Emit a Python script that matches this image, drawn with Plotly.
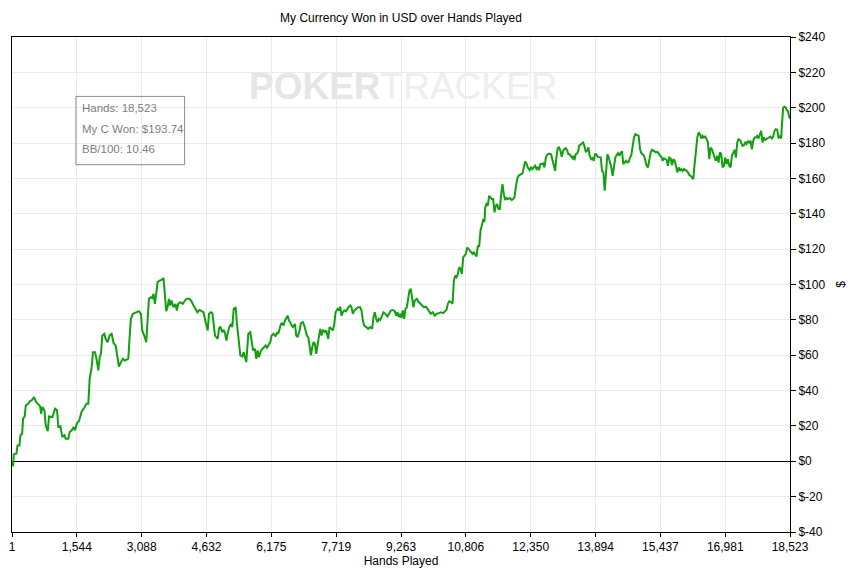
import plotly.graph_objects as go

# (hands played, cumulative USD won)
seg_early = [
    (1, 0), (28, -2.8), (44, 4.0), (107, 4.3), (131, 9.0), (178, 9.0), (202, 14.7), (242, 15.6),
    (265, 24.1), (305, 25.6), (329, 31.6), (392, 32.6), (424, 33.9), (471, 34.5), (527, 36.3),
    (567, 33.9), (614, 32.6), (670, 31.1), (693, 26.9), (725, 30.7), (772, 28.8), (804, 20.3),
    (852, 17.0), (883, 25.4), (963, 25.0), (986, 26.9), (1026, 29.7), (1073, 28.8), (1105, 19.4),
    (1153, 19.8), (1200, 13.7), (1248, 14.7), (1280, 12.8), (1343, 12.8), (1375, 16.6), (1422, 17.5),
    (1470, 19.4), (1501, 17.5), (1549, 21.6), (1596, 22.8), (1660, 28.2), (1723, 30.3), (1771, 32.6),
    (1818, 32.6), (1850, 46.7), (1898, 53.3), (1929, 61.7), (1977, 61.7), (2008, 58.5), (2056, 51.4),
    (2088, 58.9), (2119, 60.8), (2151, 71.2), (2199, 72.1), (2230, 69.3), (2278, 67.4), (2325, 71.2),
    (2373, 72.1), (2421, 66.8), (2468, 65.5), (2516, 57.0), (2547, 53.6), (2595, 56.1), (2642, 58.0),
    (2690, 57.0), (2769, 58.0), (2801, 70.2), (2832, 80.6), (2880, 83.4), (2959, 84.3), (3023, 84.9),
    (3070, 83.4), (3102, 74.0), (3149, 71.1), (3197, 67.4), (3229, 79.6), (3260, 91.9), (3308, 92.8),
    (3340, 92.4), (3371, 94.7), (3403, 89.0), (3435, 94.7), (3466, 101.3), (3514, 102.2), (3561, 102.6),
    (3609, 103.7), (3641, 92.8), (3672, 84.9), (3704, 87.1), (3736, 91.9), (3767, 88.1), (3799, 90.9),
    (3847, 87.1), (3894, 89.0), (3926, 85.3), (3957, 89.0), (4005, 90.0), (4068, 89.0), (4116, 90.9),
    (4163, 91.9), (4227, 91.9), (4274, 90.5), (4322, 88.1), (4370, 86.2), (4417, 84.3), (4465, 85.6),
    (4560, 84.3),
]

seg_middle = [
    (4612, 78.7), (4660, 74.0), (4691, 83.4), (4739, 84.3), (4771, 83.8), (4802, 75.9), (4834, 71.1),
    (4866, 70.2), (4898, 69.3), (4929, 74.9), (4961, 76.2), (5009, 73.0), (5040, 74.4), (5072, 72.5),
    (5104, 68.3), (5135, 72.1), (5167, 75.5), (5215, 77.7), (5246, 75.9), (5278, 86.2), (5326, 87.1),
    (5357, 77.7), (5405, 66.4), (5437, 59.9), (5484, 59.3), (5516, 61.7), (5548, 58.9), (5579, 56.1),
    (5627, 72.1), (5674, 73.0), (5706, 68.3), (5738, 62.7), (5785, 63.6), (5817, 58.0), (5849, 62.7),
    (5881, 58.9), (5928, 62.7), (5960, 63.6), (6007, 65.0), (6039, 65.5), (6071, 64.2), (6102, 65.5),
    (6150, 67.4), (6182, 71.1), (6229, 72.1), (6277, 70.6), (6309, 73.0), (6340, 72.1), (6372, 74.9),
    (6404, 77.7), (6435, 78.1), (6467, 76.8), (6499, 79.6), (6531, 81.5), (6562, 82.4), (6594, 79.6),
    (6626, 78.7), (6657, 76.8), (6689, 75.9), (6737, 77.7), (6768, 71.1), (6800, 70.2), (6848, 74.0),
    (6879, 78.1), (6927, 78.7), (6959, 76.8), (6990, 74.0), (7022, 71.1), (7054, 70.2), (7085, 63.6),
    (7117, 59.9), (7149, 64.6), (7181, 67.4), (7212, 66.5), (7244, 60.8), (7292, 68.3), (7339, 74.9),
    (7371, 71.1), (7403, 74.4), (7450, 73.0), (7482, 74.0), (7529, 69.3), (7561, 75.9), (7609, 74.9),
    (7640, 74.0), (7672, 77.2), (7704, 84.3), (7751, 86.2), (7783, 85.3), (7815, 87.5), (7846, 82.4),
    (7878, 84.3), (7910, 85.3), (7957, 84.9), (8005, 87.1), (8053, 88.1), (8084, 87.1), (8116, 83.4),
    (8148, 85.3), (8195, 86.2), (8243, 87.1), (8290, 87.1), (8322, 85.3), (8354, 79.6), (8385, 76.8),
    (8433, 75.9), (8480, 74.9), (8528, 75.9), (8576, 74.9), (8607, 81.5), (8639, 84.3), (8671, 80.6),
    (8702, 78.7), (8734, 80.6), (8766, 80.0), (8798, 81.5), (8845, 84.3), (8893, 83.4), (8940, 81.9),
    (8988, 83.8), (9020, 85.3), (9067, 85.6), (9115, 84.9), (9147, 82.4), (9178, 84.3), (9210, 81.5),
    (9242, 83.4), (9273, 81.1), (9305, 85.3), (9337, 80.6), (9368, 86.2), (9400, 87.1), (9432, 91.9),
    (9464, 96.6), (9495, 97.5), (9527, 92.8), (9559, 87.1), (9590, 90.9), (9638, 91.9), (9670, 90.5),
    (9717, 89.0), (9765, 88.1), (9812, 87.1), (9860, 87.5), (9892, 86.2), (9923, 85.3), (9971, 83.4),
    (10018, 84.3), (10066, 82.4), (10114, 83.4),
]

seg_climb = [
    (10220, 84.3), (10267, 83.8), (10315, 85.3), (10346, 85.7), (10378, 89.1), (10410, 90.5),
    (10457, 90.0), (10489, 89.1), (10521, 102.2), (10552, 105.0), (10584, 104.1), (10616, 106.0),
    (10648, 109.8), (10679, 108.8), (10711, 106.0), (10743, 115.4), (10774, 116.3), (10806, 117.3),
    (10838, 121.0), (10870, 120.1), (10901, 118.8), (10933, 118.2), (10965, 117.3), (10996, 118.2),
    (11028, 117.3), (11060, 115.8), (11092, 122.0), (11123, 121.4), (11155, 130.4), (11187, 134.2),
    (11218, 136.5), (11250, 136.1), (11266, 143.6), (11298, 145.5), (11329, 144.6), (11361, 150.2),
    (11393, 149.3), (11425, 148.3), (11456, 148.3), (11488, 140.8), (11520, 144.6), (11551, 145.5),
    (11583, 142.7), (11615, 142.7), (11646, 151.1), (11678, 156.8), (11710, 151.1), (11742, 147.8),
    (11773, 148.9), (11805, 148.3), (11853, 148.9), (11900, 147.8), (11932, 148.3), (11963, 149.3),
    (11995, 154.9), (12027, 159.6), (12059, 161.5), (12106, 162.4), (12154, 162.8), (12185, 166.2),
    (12217, 169.6), (12249, 168.5), (12281, 166.2), (12328, 164.7), (12360, 166.2), (12392, 165.3),
    (12423, 166.2), (12455, 167.2), (12487, 165.3), (12518, 166.2), (12550, 164.7), (12582, 168.1),
    (12614, 168.1), (12645, 168.5), (12677, 166.2), (12709, 171.5), (12740, 173.4), (12788, 174.1),
    (12835, 173.7), (12867, 170.0), (12899, 167.2), (12931, 164.3), (12962, 171.9), (12994, 177.1),
    (13026, 177.5), (13057, 175.6), (13089, 172.2), (13121, 175.6), (13153, 176.6), (13184, 177.1),
    (13216, 176.0), (13248, 173.7), (13279, 173.7), (13311, 172.8), (13343, 171.5), (13374, 172.8),
    (13390, 170.3), (13422, 173.7), (13454, 174.1), (13485, 175.6), (13501, 178.4), (13533, 179.0),
    (13565, 179.8), (13596, 180.3), (13628, 178.4), (13660, 175.2), (13691, 175.6), (13723, 177.5),
    (13755, 172.8), (13787, 170.9), (13818, 171.5), (13850, 170.0), (13882, 173.7), (13913, 173.7),
    (13945, 172.2),
]

seg_late = [
    (14017, 171.9), (14048, 164.3), (14080, 163.4), (14112, 153.0), (14144, 167.2), (14175, 173.7),
    (14207, 171.8), (14239, 169.0), (14270, 166.2), (14302, 161.5), (14334, 167.1), (14365, 171.8),
    (14397, 173.2), (14429, 174.3), (14461, 172.8), (14492, 174.7), (14524, 175.0), (14556, 168.1),
    (14587, 169.0), (14619, 170.0), (14651, 169.0), (14683, 169.4), (14714, 171.8), (14746, 173.2),
    (14778, 178.4), (14809, 183.1), (14841, 185.0), (14889, 184.5), (14920, 184.1), (14952, 176.6),
    (14984, 174.3), (15016, 173.7), (15047, 172.8), (15079, 170.0), (15111, 167.1), (15142, 166.2),
    (15174, 171.8), (15206, 174.7), (15237, 176.2), (15285, 175.6), (15333, 174.7), (15364, 175.0),
    (15396, 174.3), (15428, 172.8), (15459, 172.4), (15491, 170.0), (15523, 171.3), (15555, 170.9),
    (15586, 170.5), (15618, 167.1), (15650, 171.8), (15681, 171.3), (15713, 167.5), (15745, 170.9),
    (15776, 170.0), (15808, 167.1), (15840, 163.4), (15872, 166.2), (15903, 164.3), (15935, 165.3),
    (15967, 164.3), (15998, 165.3), (16030, 164.9), (16062, 164.3), (16094, 163.4), (16125, 161.9),
    (16157, 161.5), (16189, 160.6), (16220, 159.6), (16252, 168.1), (16284, 178.4), (16316, 183.1),
    (16347, 186.0), (16379, 185.0), (16411, 182.6), (16442, 184.1), (16474, 183.1), (16506, 183.7),
    (16537, 182.2), (16569, 180.3), (16601, 170.9), (16633, 177.5), (16664, 176.5), (16696, 173.7),
    (16728, 171.8), (16759, 170.0), (16791, 172.8), (16823, 169.0), (16855, 174.7), (16886, 173.7),
    (16918, 166.2), (16950, 167.1), (16981, 171.8), (17013, 168.1), (17045, 170.9), (17077, 167.1),
    (17108, 166.2), (17140, 172.8), (17172, 175.0), (17203, 176.2), (17235, 171.8), (17267, 180.3),
    (17298, 182.2), (17330, 181.8), (17362, 180.3), (17394, 178.4), (17425, 178.8), (17457, 180.3),
    (17489, 179.4), (17520, 181.3), (17552, 180.3), (17584, 181.3), (17616, 176.5), (17647, 181.3),
    (17679, 183.1), (17711, 183.1), (17742, 184.1), (17774, 182.6), (17806, 185.0), (17837, 186.9),
    (17869, 180.3), (17901, 183.1), (17933, 181.8), (17964, 182.2), (17996, 182.6), (18028, 183.1),
    (18059, 183.7), (18091, 182.6), (18123, 183.7), (18154, 186.9), (18186, 187.8), (18218, 187.5),
    (18250, 183.1), (18281, 183.7), (18313, 182.6), (18329, 189.7), (18361, 200.1), (18392, 200.6),
    (18424, 200.1), (18440, 198.8), (18472, 198.2), (18504, 195.0), (18523, 193.74),
]

x_tick_labels = ["1", "1,544", "3,088", "4,632", "6,175", "7,719", "9,263",
                 "10,806", "12,350", "13,894", "15,437", "16,981", "18,523"]
y_tick_values = [-40, -20, 0, 20, 40, 60, 80, 100, 120, 140, 160, 180, 200, 220, 240]
y_tick_labels = ["$" + str(v) for v in y_tick_values]
bb_per_100 = 10.46

points = seg_early + seg_middle + seg_climb + seg_late
hands = [p[0] for p in points]
won = [p[1] for p in points]
x_tick_values = [int(s.replace(",", "")) for s in x_tick_labels]

font_main = "Liberation Sans, Arial, sans-serif"

# the page body adds an 8px offset, so the figure is sized to fit the window
FIG_W, FIG_H = 849, 563

fig = go.Figure()
fig.add_trace(go.Scatter(
    x=hands, y=won, mode="lines",
    line=dict(color="#10a010", width=2),
    showlegend=False, hoverinfo="skip",
))

fig.update_layout(
    width=FIG_W, height=FIG_H,
    margin=dict(l=3.5, r=67, t=28.5, b=39, autoexpand=False),
    paper_bgcolor="white", plot_bgcolor="white",
    font=dict(family=font_main, size=12, color="black"),
    title=dict(text="My Currency Won in USD over Hands Played", x=0.5, xanchor="center",
               xref="paper", y=1 - 10 / FIG_H, yanchor="middle", font=dict(size=12, color="black")),
    showlegend=False,
)

fig.update_xaxes(
    range=[1, 18523], tickmode="array", tickvals=x_tick_values, ticktext=x_tick_labels,
    showgrid=True, gridcolor="#ebebeb", gridwidth=1, zeroline=False,
    showline=True, linecolor="black", linewidth=1, mirror=True,
    ticks="outside", ticklen=4, tickcolor="black", automargin=False,
    title=dict(text="Hands Played", standoff=3, font=dict(size=12)),
    tickfont=dict(size=12),
)
fig.update_yaxes(
    range=[-40, 240], side="right", tickmode="array", tickvals=y_tick_values, ticktext=y_tick_labels,
    showgrid=True, gridcolor="#ebebeb", gridwidth=1,
    zeroline=True, zerolinecolor="black", zerolinewidth=1,
    showline=True, linecolor="black", linewidth=1, mirror=True,
    ticks="outside", ticklen=5, tickcolor="black", automargin=False,
    title=dict(text="$", standoff=12, font=dict(size=12)),
    tickfont=dict(size=12),
)

# watermark
fig.add_annotation(
    xref="paper", yref="paper", x=0.503, y=0.899, xanchor="center", yanchor="middle",
    text="<b><span style='color:#e6e6e6'>POKER</span></b>TRACKER", showarrow=False,
    font=dict(family=font_main, size=37, color="#eeeeee"),
)

# stats box
fig.add_shape(type="rect", xref="paper", yref="paper",
              x0=0.0822, x1=0.2219, y0=0.742, y1=0.880,
              line=dict(color="#8c8c8c", width=1), fillcolor="rgba(255,255,255,0)", layer="above")
stats_lines = [
    "Hands: " + f"{hands[-1]:,}",
    "My C Won: $" + f"{won[-1]:.2f}",
    "BB/100: " + f"{bb_per_100:.2f}",
]
for i, line in enumerate(stats_lines):
    fig.add_annotation(
        xref="paper", yref="paper", x=0.0875, y=0.856 - i * 0.0415,
        xanchor="left", yanchor="middle", text=line, showarrow=False,
        font=dict(family=font_main, size=11.5, color="#808080"),
    )

fig.write_html("out.html")
